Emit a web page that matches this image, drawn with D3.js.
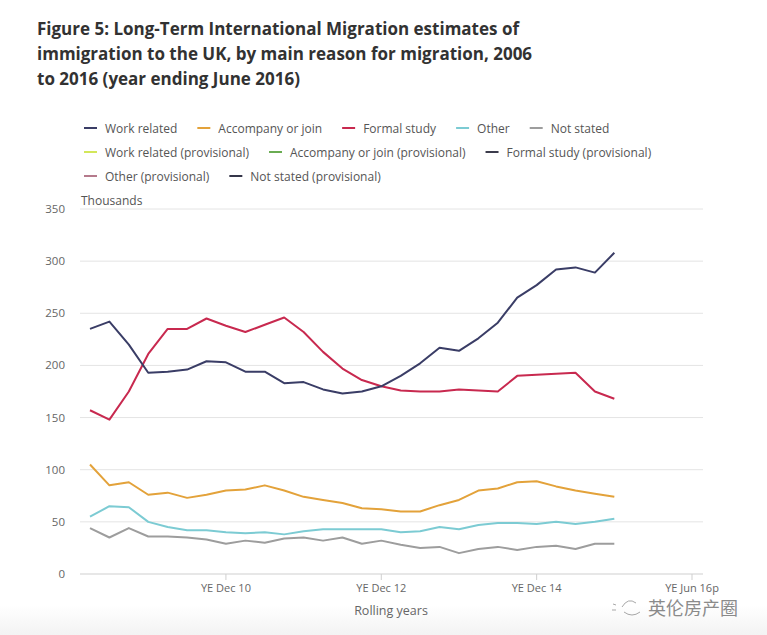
<!DOCTYPE html>
<html>
<head>
<meta charset="utf-8">
<script src="https://cdn.jsdelivr.net/npm/d3@7/dist/d3.min.js"></script>
<style>
  html, body { margin: 0; padding: 0; background: #ffffff; }
  svg { display: block; font-family: "Open Sans", "Noto Sans", sans-serif; }
</style>
</head>
<body>
<svg id="chart" width="767" height="635"></svg>
<script>
// ---------- data ----------
const periods = [
  "YE Mar 09","YE Jun 09","YE Sep 09","YE Dec 09","YE Mar 10","YE Jun 10","YE Sep 10","YE Dec 10",
  "YE Mar 11","YE Jun 11","YE Sep 11","YE Dec 11","YE Mar 12","YE Jun 12","YE Sep 12","YE Dec 12",
  "YE Mar 13","YE Jun 13","YE Sep 13","YE Dec 13","YE Mar 14","YE Jun 14","YE Sep 14","YE Dec 14",
  "YE Mar 15","YE Jun 15","YE Sep 15","YE Dec 15"
];
const axisExtraSlots = ["YE Mar 16","YE Jun 16","YE Sep 16","YE Jun 16p"];
const tickLabels = ["YE Dec 10","YE Dec 12","YE Dec 14","YE Jun 16p"];
const yTicks = [0, 50, 100, 150, 200, 250, 300, 350];

const workRelated = [235,242,220,193,194,196,204,203,194,194,183,184,177,173,175,180,190,202,217,214,226,241,265,277,292,294,289,308];
const formalStudy = [157,148,175,211,235,235,245,238,232,239,246,232,213,197,186,180,176,175,175,177,176,175,190,191,192,193,175,168];
const accompanyJoin = [105,85,88,76,78,73,76,80,81,85,80,74,71,68,63,62,60,60,66,71,80,82,88,89,84,80,77,74];
const other = [55,65,64,50,45,42,42,40,39,40,38,41,43,43,43,43,40,41,45,43,47,49,49,48,50,48,50,53];
const notStated = [44,35,44,36,36,35,33,29,32,30,34,35,32,35,29,32,28,25,26,20,24,26,23,26,27,24,29,29];

const seriesNames = ["Work related","Accompany or join","Formal study","Other","Not stated",
  "Work related (provisional)","Accompany or join (provisional)","Formal study (provisional)",
  "Other (provisional)","Not stated (provisional)"];
const seriesColors = ["#3a3d66","#e3a23a","#c8294f","#7ccbd3","#9d9d9d",
  "#d3e75a","#6aac52","#3c3c4c","#b57a8c","#35364a"];

const title = ["Figure 5: Long-Term International Migration estimates of",
  "immigration to the UK, by main reason for migration, 2006",
  "to 2016 (year ending June 2016)"];

// ---------- drawing ----------
const svg = d3.select("#chart");

// faint bottom shading
const defs = svg.append("defs");
const grad = defs.append("linearGradient").attr("id","bottomShade").attr("x1",0).attr("x2",0).attr("y1",0).attr("y2",1);
grad.append("stop").attr("offset","0%").attr("stop-color","#ffffff");
grad.append("stop").attr("offset","100%").attr("stop-color","#f3f3f3");
svg.append("rect").attr("x",0).attr("y",605).attr("width",767).attr("height",30).attr("fill","url(#bottomShade)");

// title
svg.append("g").selectAll("text").data(title).join("text")
  .attr("x", 37).attr("y", (d,i) => 35 + i*25)
  .attr("font-size", 17).attr("font-weight", 700).attr("fill", "#323232")
  .text(d => d);

// legend
const legend = svg.append("g");
let lx = 84, ly = 128;
const maxX = 705;
seriesNames.forEach((name, i) => {
  const g = legend.append("g");
  g.append("line").attr("x1",0).attr("x2",13).attr("y1",0).attr("y2",0)
    .attr("stroke", seriesColors[i]).attr("stroke-width", 2);
  const t = g.append("text").attr("x", 21).attr("y", 4.5)
    .attr("font-size", 12).attr("fill", "#555").text(name);
  const w = 21 + t.node().getComputedTextLength();
  if (lx + w > maxX) { lx = 84; ly += 24; }
  g.attr("transform", `translate(${lx},${ly})`);
  lx += w + 20;
});

// scales
const x = d3.scalePoint().domain(periods.concat(axisExtraSlots)).range([90, 692]);
const y = d3.scaleLinear().domain([0, 350]).range([574, 209]);
const x0 = 80, x1 = 703;

// gridlines
svg.append("g").selectAll("line").data(yTicks.filter(d => d > 0)).join("line")
  .attr("x1", x0).attr("x2", x1).attr("y1", d => y(d)).attr("y2", d => y(d))
  .attr("stroke", "#e4e4e4").attr("stroke-width", 1);

// y labels
svg.append("g").selectAll("text").data(yTicks).join("text")
  .attr("x", 65).attr("y", d => y(d) + 4).attr("text-anchor", "end")
  .attr("font-size", 11.5).attr("fill", "#666").text(d => d);

svg.append("text").attr("x", 81).attr("y", 205).attr("font-size", 12).attr("fill", "#555").text("Thousands");

// x axis
const xAxis = svg.append("g");
xAxis.append("line").attr("x1", x0).attr("x2", x1).attr("y1", y(0)).attr("y2", y(0))
  .attr("stroke", "#cfcfcf").attr("stroke-width", 1);
xAxis.selectAll("line.tick").data(tickLabels).join("line").attr("class","tick")
  .attr("x1", d => x(d)).attr("x2", d => x(d)).attr("y1", y(0)).attr("y2", y(0) + 6)
  .attr("stroke", "#cfcfcf");
xAxis.selectAll("text").data(tickLabels).join("text")
  .attr("x", d => x(d)).attr("y", 592).attr("text-anchor", "middle")
  .attr("font-size", 11).attr("fill", "#666").text(d => d);

svg.append("text").attr("x", 391).attr("y", 615).attr("text-anchor", "middle")
  .attr("font-size", 12.5).attr("fill", "#666").text("Rolling years");

// lines
const allSeries = [
  {values: notStated, color: seriesColors[4]},
  {values: other, color: seriesColors[3]},
  {values: accompanyJoin, color: seriesColors[1]},
  {values: formalStudy, color: seriesColors[2]},
  {values: workRelated, color: seriesColors[0]}
];
const line = d3.line().x((d,i) => x(periods[i])).y(d => y(d));
svg.append("g").selectAll("path").data(allSeries).join("path")
  .attr("d", d => line(d.values)).attr("fill", "none")
  .attr("stroke", d => d.color).attr("stroke-width", 2).attr("stroke-linejoin", "round");

// watermark
const wm = svg.append("g").attr("opacity", 0.85);
wm.append("text").attr("x", 648).attr("y", 615).attr("font-family", "Noto Sans CJK SC")
  .attr("font-size", 18).attr("fill", "#777").text("英伦房产圈");
wm.append("path").attr("d", "M622,607 q6,-10 14,-4 M624,612 q8,6 16,0 M613,604 l3,1 M612,610 l4,0")
  .attr("stroke", "#999").attr("fill", "none").attr("stroke-width", 1);
</script>
</body>
</html>
